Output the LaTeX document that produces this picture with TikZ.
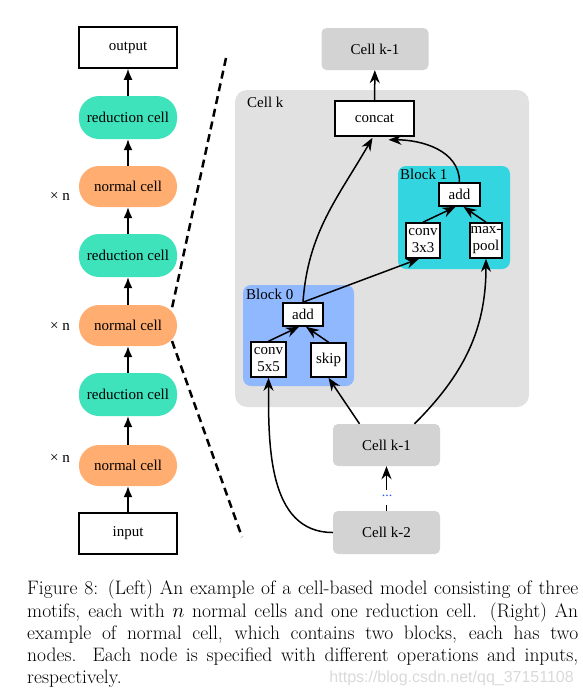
\documentclass[tikz,border=0pt]{standalone}
\usepackage{fontspec}
\newfontfamily\tnr{Liberation Serif}
\newfontfamily\wmfont{Liberation Sans}
\usetikzlibrary{arrows.meta,calc}
\definecolor{redc}{RGB}{62,226,187}
\definecolor{normc}{RGB}{255,173,112}
\definecolor{cellgray}{RGB}{211,211,211}
\definecolor{cellbg}{RGB}{225,225,225}
\definecolor{blkone}{RGB}{51,214,224}
\definecolor{blkzero}{RGB}{143,184,255}
\definecolor{dotblue}{RGB}{40,80,240}
\tikzset{
  lbl/.style={font=\tnr\fontsize{15}{17}\selectfont},
  whitebox/.style={lbl,draw=black,line width=1.6pt,fill=white,inner sep=0pt,align=center},
  pill/.style={lbl,rounded corners=20pt,minimum width=98pt,inner sep=0pt},
  redpill/.style={pill,fill=redc,minimum height=43pt},
  normpill/.style={pill,fill=normc,minimum height=41pt},
  graycell/.style={lbl,fill=cellgray,rounded corners=5pt,minimum width=107pt,minimum height=42pt,inner sep=0pt},
  larr/.style={-{Latex[length=11pt,width=9pt]},line width=1.5pt},
  rarr/.style={-{Stealth[length=13pt,width=10pt]},line width=1.5pt},
  bigdash/.style={line width=2.5pt,dash pattern=on 8pt off 5pt},
}
\begin{document}
\begin{tikzpicture}[x=1pt,y=-1pt]
\useasboundingbox (0,0) rectangle (582,694);
% ---------- left column ----------
\node[whitebox,minimum width=98pt,minimum height=41pt] (output) at (128,47.5) {output};
\node[redpill] (red1) at (128,117.5) {reduction cell};
\node[normpill] (norm1) at (128,186.5) {normal cell};
\node[redpill] (red2) at (128,255.5) {reduction cell};
\node[normpill] (norm2) at (128,325.5) {normal cell};
\node[redpill] (red3) at (128,394.5) {reduction cell};
\node[normpill] (norm3) at (128,465.5) {normal cell};
\node[whitebox,minimum width=98pt,minimum height=41pt] (input) at (128,533.5) {input};
\node[lbl] (xn1) at (60,196) {× n};
\node[lbl] (xn2) at (60,326) {× n};
\node[lbl] (xn3) at (60,458) {× n};
\draw[larr] (input) -- (norm3);
\draw[larr] (norm3) -- (red3);
\draw[larr] (red3) -- (norm2);
\draw[larr] (norm2) -- (red2);
\draw[larr] (red2) -- (norm1);
\draw[larr] (norm1) -- (red1);
\draw[larr] (red1) -- (output);
% dashed zoom lines
\coordinate (dA) at (226,58);
\coordinate (dB) at (172,308);
\coordinate (dC) at (172,341);
\coordinate (dD) at (242,537);
\draw[bigdash] (dA) -- (dB);
\draw[bigdash] (dC) -- (dD);
% ---------- right side ----------
\node[graycell] (ktop) at (375,49) {Cell k-1};
\node[fill=cellbg,rounded corners=12pt,minimum width=294pt,minimum height=317pt,inner sep=0pt] (cellk) at (382,248.5) {};
\node[lbl,anchor=north west,inner sep=0pt] (cellklbl) at (247,97) {Cell k};
\node[whitebox,minimum width=79pt,minimum height=35pt] (concat) at (374.5,118.5) {concat};
% block 1
\node[fill=blkone,rounded corners=8pt,minimum width=112pt,minimum height=103pt,inner sep=0pt] (blk1) at (454,217.5) {};
\node[lbl,anchor=north west,inner sep=0pt] (blk1lbl) at (400,169) {Block 1};
\node[whitebox,minimum width=41pt,minimum height=23pt] (add1) at (459.5,194.5) {add};
\node[whitebox,minimum width=34pt,minimum height=35pt] (conv3) at (423,240.5) {conv\\3x3};
\node[whitebox,minimum width=32pt,minimum height=35pt] (mpool) at (486,240.5) {max-\\pool};
% block 0
\node[fill=blkzero,rounded corners=8pt,minimum width=111pt,minimum height=101pt,inner sep=0pt] (blk0) at (298.5,335.5) {};
\node[lbl,anchor=north west,inner sep=0pt] (blk0lbl) at (246,289) {Block 0};
\node[whitebox,minimum width=40pt,minimum height=23pt] (add0) at (303,314.5) {add};
\node[whitebox,minimum width=35pt,minimum height=35pt] (conv5) at (268.5,359.5) {conv\\5x5};
\node[whitebox,minimum width=35pt,minimum height=34pt] (skip) at (328.5,360) {skip};
% inputs
\node[graycell] (k1) at (386.5,445) {Cell k-1};
\node[graycell,minimum height=43pt] (k2) at (386.5,532.5) {Cell k-2};
\node[inner sep=0pt,font=\tnr\fontsize{14}{14}\selectfont] (dots) at (387,496) {\textcolor{dotblue}{...}};
% connectors
\draw[rarr] (concat) -- (ktop);
\draw[rarr] (conv3.north) -- ($(add1.south)+(-4,0)$);
\draw[rarr] (mpool.north) -- ($(add1.south)+(4,0)$);
\draw[rarr] (add1.north) to[out=90,in=0] ($(concat.south)+(14,3)$);
\draw[rarr] (add0.north) to[out=86,in=-120] ($(concat.south)+(-2,1)$);
\draw[rarr] (add0.north) -- ($(conv3.south)+(-4,0)$);
\draw[rarr] (conv5.north) -- ($(add0.south)+(-4,0)$);
\draw[rarr] (skip.north) -- ($(add0.south)+(3,0)$);
\draw[rarr] ($(k1.north)+(-27,0)$) -- (skip.south);
\draw[rarr] ($(k1.north)+(28,0)$) to[out=45,in=-90] (mpool.south);
\draw[rarr] (k2.west) to[out=180,in=-90] (conv5.south);
\draw[line width=1.5pt] (k2.north) -- ($(k2.north)+(0,-6)$);
\draw[rarr] ($(k1.south)+(0,24)$) -- (k1.south);
% ---------- caption ----------
\node[anchor=north west,inner sep=0pt,text width=551pt,align=justify,font=\fontsize{19.5}{22.2}\selectfont] (caption) at (27,580)
{Figure 8: (Left) An example of a cell-based model consisting of three\linebreak
motifs, each with $n$ normal cells and one reduction cell. (Right) An\linebreak
example of normal cell, which contains two blocks, each has two\linebreak
nodes. Each node is specified with different operations and inputs,\linebreak
respectively.};
\node[anchor=base east,inner sep=0pt,text=black!15,font=\wmfont\fontsize{16}{16}\selectfont] (wm) at (574,682) {https://blog.csdn.net/qq\_37151108};
\end{tikzpicture}
\end{document}
